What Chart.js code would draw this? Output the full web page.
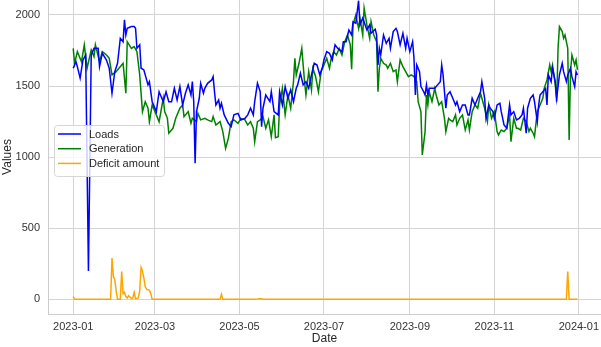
<!DOCTYPE html>
<html lang="en">
<head>
  <meta charset="UTF-8" />
  <title>Loads vs Generation</title>
  <script src="https://cdn.jsdelivr.net/npm/chart.js"></script>
  <style>
    html, body { margin: 0; padding: 0; background: #fff; }
    #wrap { width: 601px; height: 347px; }
  </style>
</head>
<body>
  <div id="wrap"><canvas id="mainChart" width="601" height="347"></canvas></div>

  <script>
    // day of year 2023 (0 = 2023-01-01) and value
    const loadsDay = [0,2,3,5,7,9,11,13,15,18,19,21,24,26,28,30,32,34,36,37,38,39,42,44,45,46,48,49,51,54,55,57,60,62,65,67,69,71,73,75,77,79,81,83,85,86,87,88,89,91,92,94,95,97,100,101,102,103,105,106,107,109,112,114,116,119,121,124,126,128,130,131,133,135,136,137,139,142,143,145,148,149,151,153,155,157,159,161,162,164,166,168,170,172,174,176,178,180,181,183,185,187,189,191,194,195,197,199,201,202,204,206,207,209,212,214,215,218,219,220,221,222,224,226,228,229,231,233,234,236,238,240,241,243,245,246,247,248,250,251,253,254,255,256,257,259,261,263,265,266,267,269,270,272,274,276,277,279,281,283,285,286,288,290,292,294,295,297,298,300,301,303,304,306,308,309,311,313,315,316,318,320,322,324,325,327,328,330,332,333,335,336,337,339,341,342,343,345,346,348,349,351,353,354,356,357,359,360,362,363,364];
    const loadsVal = [1625,1671,1636,1555,1683,1718,200,1718,1765,1765,1636,1730,1683,1625,1449,1601,1660,1836,1812,1965,1859,1906,1918,1918,1906,1765,1790,1625,1613,1508,1530,1390,1320,1460,1390,1460,1390,1390,1484,1402,1496,1367,1449,1508,1437,1531,1390,957,1320,1414,1519,1449,1484,1519,1543,1566,1460,1367,1402,1344,1379,1297,1238,1214,1297,1308,1261,1273,1297,1344,1297,1390,1519,1460,1214,1344,1437,1390,1460,1320,1297,1460,1367,1496,1414,1473,1390,1484,1508,1590,1508,1531,1484,1578,1660,1648,1578,1636,1683,1742,1730,1683,1790,1765,1742,1812,1812,1894,1859,1953,1942,2100,1930,1977,1894,1930,1871,1900,1860,1648,1765,1720,1859,1800,1836,1765,1883,1906,1883,1790,1871,1765,1836,1742,1812,1695,1437,1648,1601,1496,1460,1437,1508,1437,1484,1484,1484,1508,1531,1648,1578,1344,1437,1460,1414,1367,1390,1320,1367,1367,1297,1297,1414,1367,1414,1460,1531,1414,1273,1367,1344,1320,1273,1367,1379,1320,1226,1203,1367,1297,1320,1262,1273,1297,1344,1168,1344,1414,1437,1390,1250,1367,1437,1460,1484,1367,1578,1531,1625,1531,1414,1578,1660,1601,1531,1578,1625,1566,1496,1601,1578];

    const genDay = [0,1,3,6,8,10,13,15,16,19,21,24,26,28,31,33,36,38,39,42,44,46,48,50,52,54,55,57,60,62,65,66,68,69,72,74,77,79,80,83,85,86,89,90,92,95,97,100,101,103,106,108,110,112,114,116,119,121,124,126,128,130,131,133,135,137,139,141,143,145,146,148,149,151,153,155,157,159,160,161,163,165,167,168,170,172,173,175,177,179,181,183,185,186,188,190,192,194,196,198,200,201,202,204,206,207,209,210,212,214,215,217,219,220,221,222,224,226,227,229,231,233,234,236,238,240,242,244,246,248,249,251,252,254,255,256,257,259,261,262,264,266,268,269,271,272,274,276,277,279,281,283,285,286,288,290,292,294,295,297,299,300,302,304,306,307,309,311,313,315,316,318,320,321,323,325,327,329,330,332,333,335,337,339,340,342,344,345,346,348,349,350,351,353,354,355,357,358,359,360,362,363,364];
    const genVal = [1765,1660,1742,1671,1790,1625,1754,1707,1790,1671,1742,1718,1695,1578,1601,1625,1660,1449,1812,1765,1777,1742,1578,1320,1390,1344,1249,1367,1297,1249,1414,1320,1273,1168,1203,1273,1344,1367,1285,1320,1238,1273,1250,1308,1262,1273,1262,1250,1285,1226,1250,1180,1062,1133,1250,1262,1238,1273,1262,1226,1250,1203,1109,1250,1262,1285,1203,1262,1145,1297,1137,1144,1367,1484,1297,1437,1344,1531,1695,1578,1660,1765,1531,1437,1601,1473,1625,1566,1460,1601,1648,1695,1625,1683,1742,1718,1765,1718,1812,1859,1790,1619,1930,2000,1906,1977,1859,2047,1930,1836,1953,1859,1812,1460,1625,1695,1660,1648,1625,1660,1601,1613,1531,1683,1636,1601,1566,1578,1566,1531,1390,1320,1015,1179,1437,1367,1460,1390,1484,1437,1367,1390,1273,1180,1273,1262,1250,1297,1226,1273,1297,1191,1262,1191,1320,1367,1344,1449,1414,1344,1250,1367,1273,1320,1180,1156,1191,1180,1203,1297,1109,1273,1203,1203,1191,1273,1250,1180,1203,1168,1144,1320,1367,1414,1484,1543,1648,1601,1648,1508,1390,1765,1918,1883,1836,1859,1765,1121,1601,1718,1648,1683,1613];

    const defDay = [0,1,27,28,29,30,31,32,34,35,36,37,38,39,40,42,43,44,45,47,48,49,50,51,52,53,55,56,57,106,107,108,132,134,136,137,356,357,358,364];
    const defVal = [20,0,0,290,160,140,60,0,0,195,40,50,20,10,25,5,10,50,5,10,60,225,200,150,90,70,65,40,0,0,35,0,0,5,5,0,0,195,0,0];

    const seriesNames = ['Loads', 'Generation', 'Deficit amount'];
    const seriesColors = ['#0000ff', '#008000', '#ffa500'];

    const tickDays = [0, 59, 120, 181, 243, 304, 365];
    const tickLabels = ['2023-01', '2023-03', '2023-05', '2023-07', '2023-09', '2023-11', '2024-01'];
    const yTicks = [0, 500, 1000, 1500, 2000];

    const FONT = "'Liberation Sans', Arial, sans-serif";

    function pairs(days, vals) {
      return days.map((d, i) => ({ x: d, y: vals[i] }));
    }

    // legend box drawn inside the plot, like matplotlib's
    const insideLegend = {
      id: 'insideLegend',
      afterDatasetsDraw(chart) {
        const ctx = chart.ctx;
        const x = 54, y = 125, w = 110, h = 51;
        ctx.save();
        ctx.beginPath();
        ctx.roundRect(x + 0.5, y + 0.5, w, h, 3);
        ctx.fillStyle = 'rgba(255,255,255,0.8)';
        ctx.fill();
        ctx.strokeStyle = '#d6d6d6';
        ctx.lineWidth = 1;
        ctx.stroke();
        ctx.font = '11px ' + FONT;
        ctx.textBaseline = 'middle';
        chart.data.datasets.forEach((ds, i) => {
          const ry = 134 + i * 14.7;
          ctx.beginPath();
          ctx.moveTo(58, ry);
          ctx.lineTo(81, ry);
          ctx.strokeStyle = ds.borderColor;
          ctx.lineWidth = 1.5;
          ctx.stroke();
          ctx.fillStyle = '#262626';
          ctx.fillText(ds.label, 89, ry + 0.5);
        });
        ctx.restore();
      }
    };

    new Chart(document.getElementById('mainChart').getContext('2d'), {
      type: 'line',
      data: {
        datasets: [
          { label: seriesNames[0], data: pairs(loadsDay, loadsVal), borderColor: seriesColors[0] },
          { label: seriesNames[1], data: pairs(genDay, genVal), borderColor: seriesColors[1] },
          { label: seriesNames[2], data: pairs(defDay, defVal), borderColor: seriesColors[2] }
        ]
      },
      options: {
        responsive: false,
        animation: false,
        devicePixelRatio: 1,
        layout: { padding: 0 },
        elements: {
          point: { radius: 0 },
          line: { borderWidth: 1.5, tension: 0, fill: false }
        },
        plugins: {
          legend: { display: false },
          tooltip: { enabled: false }
        },
        scales: {
          x: {
            type: 'linear',
            min: -18.2,
            max: 381,
            afterBuildTicks: s => { s.ticks = tickDays.map(v => ({ value: v })); },
            afterFit: s => { s.height = 33; s.paddingLeft = 0; s.paddingRight = 0; },
            grid: { color: '#d4d4d4', tickLength: 0 },
            border: { color: '#cccccc' },
            ticks: {
              padding: 6,
              maxRotation: 0,
              color: '#333333',
              font: { family: FONT, size: 11 },
              callback: (v, i) => tickLabels[i]
            },
            title: {
              display: true,
              text: 'Date',
              color: '#262626',
              font: { family: FONT, size: 12 },
              padding: { top: 0, bottom: 1 }
            }
          },
          y: {
            min: -103,
            max: 2105,
            afterBuildTicks: s => { s.ticks = yTicks.map(v => ({ value: v })); },
            afterFit: s => { s.width = 48; s.paddingTop = 0; s.paddingBottom = 0; },
            grid: { color: '#d4d4d4', tickLength: 0 },
            border: { color: '#cccccc' },
            ticks: {
              padding: 8,
              color: '#333333',
              font: { family: FONT, size: 11 },
              callback: v => String(v)
            },
            title: {
              display: true,
              text: 'Values',
              color: '#262626',
              font: { family: FONT, size: 12 },
              padding: { top: 0, bottom: 0 }
            }
          }
        }
      },
      plugins: [insideLegend]
    });
  </script>
</body>
</html>
